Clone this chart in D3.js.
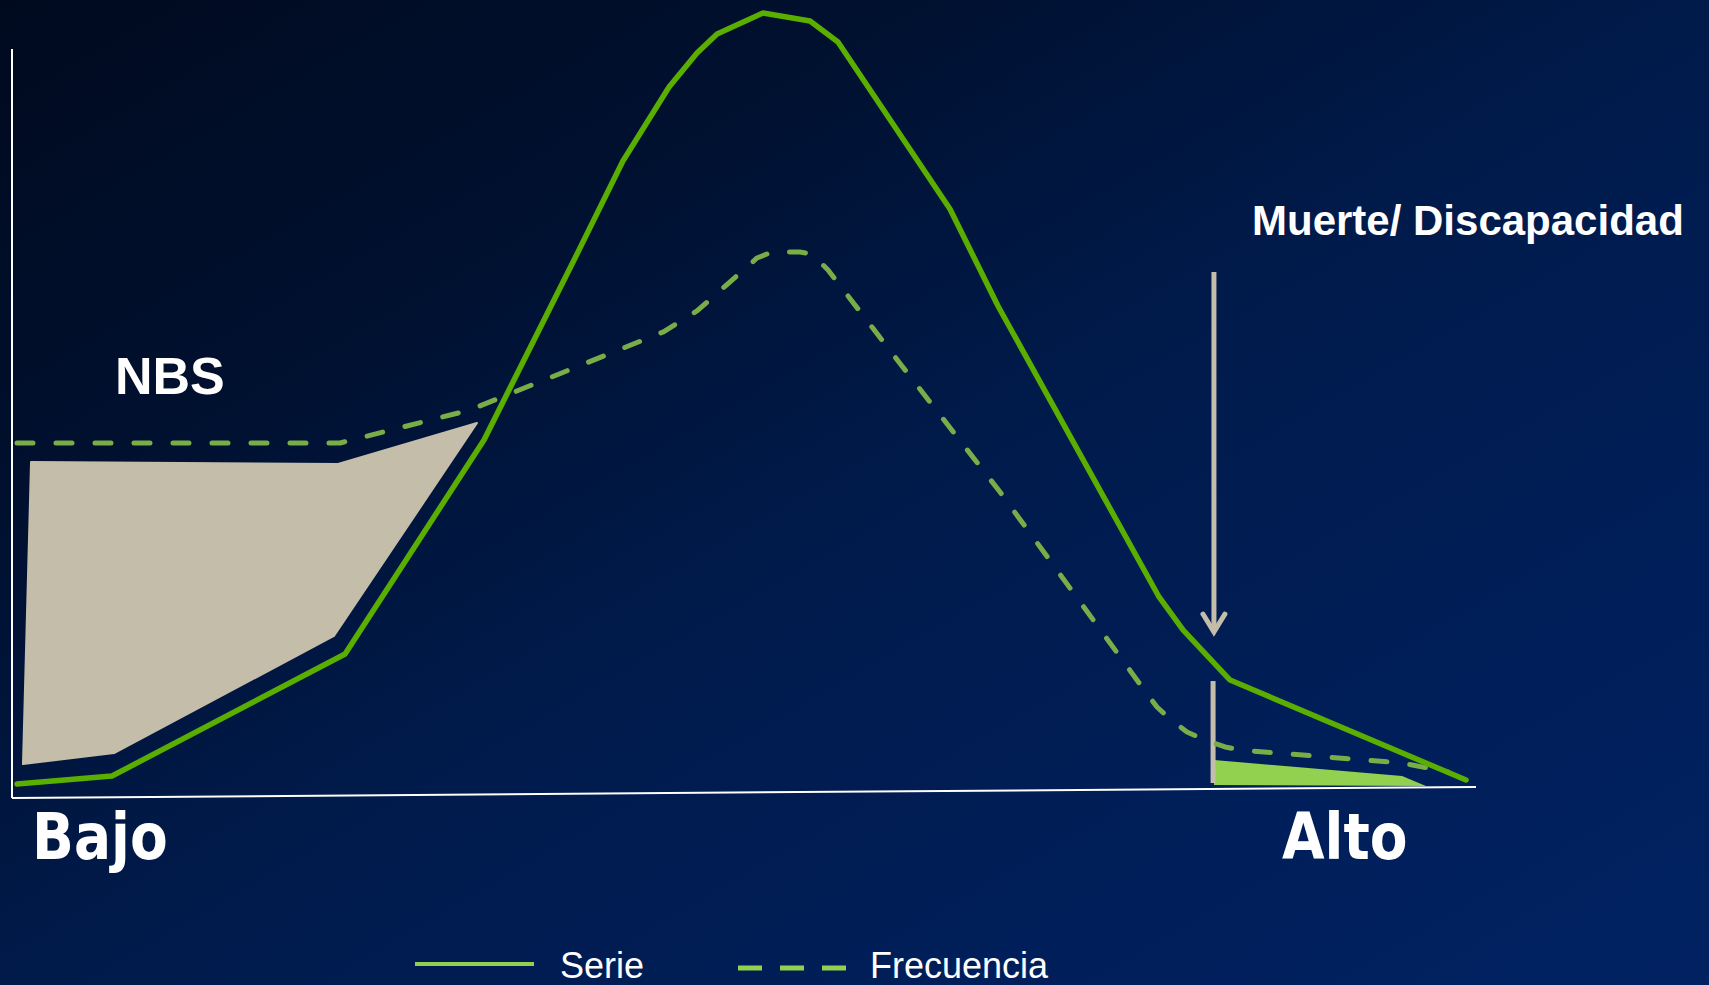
<!DOCTYPE html>
<html>
<head>
<meta charset="utf-8">
<script src="https://cdn.jsdelivr.net/npm/d3@7"></script>
<style>
  html, body { margin: 0; padding: 0; background: #00153d; overflow: hidden; }
  svg { display: block; }
</style>
</head>
<body>
<svg id="chart" width="1709" height="985"></svg>
<script>
// Severity axis runs 0..100 (Bajo -> Alto); heights are relative units 0..100.

// Serie: solid curve
const serieX = [0.34, 6.83, 22.75, 32.24, 38.46, 41.73, 44.88, 46.79, 48.16, 51.30, 54.51, 56.42, 64.07, 67.35, 78.35, 80.0, 83.20, 99.32];
const serieY = [1.78, 2.80, 18.34, 45.61, 68.79, 81.15, 90.57, 94.90, 97.32, 100, 98.98, 96.31, 75.03, 62.68, 25.61, 21.4, 15.03, 2.29];

// Frecuencia: dashed curve
const frecX = [0.34, 22.40, 31.28, 44.47, 46.79, 50.89, 51.91, 53.83, 54.64, 55.74, 60.79, 67.49, 77.19, 78.21, 79.10, 80.26, 81.49, 82.86, 83.88, 94.95, 98.09];
const frecY = [45.22, 45.22, 49.43, 59.36, 62.04, 68.79, 69.55, 69.55, 69.30, 67.26, 55.03, 38.98, 14.14, 11.59, 10.06, 8.41, 7.39, 6.50, 6.11, 4.46, 3.31];

// NBS shaded region
const nbsX = [1.30, 22.27, 31.76, 21.99, 6.97, 0.75];
const nbsY = [42.80, 42.55, 47.77, 20.64, 5.73, 4.33];

// Muerte / Discapacidad shaded region
const muerteX = [82.10, 94.95, 96.58, 82.10];
const muerteY = [4.84, 2.80, 1.53, 1.66];

// Marker at the Muerte/Discapacidad threshold
const markerX = [82.04, 82.04];
const markerY = [14.90, 1.91];
const arrowX = [82.10, 82.10];
const arrowY = [67.0, 20.76];

// Axis frame
const axisX = [0, 100];
const axisBaseY = [0, 1.40];
const axisTopY = 95.4;

const axisLabels = ["Bajo", "Alto"];
const legendLabels = ["Serie", "Frecuencia"];

const W = 1709, H = 985;
const svg = d3.select("#chart");

const x = d3.scaleLinear().domain([0, 100]).range([12, 1476]);
const y = d3.scaleLinear().domain([0, 100]).range([798, 13]);

// background: dark navy in the top-left corner brightening towards bottom-right
const defs = svg.append("defs");
const grad = defs.append("linearGradient")
  .attr("id", "bg")
  .attr("x1", 0).attr("y1", 0).attr("x2", 1).attr("y2", 1);
[[0, "#000a1f"], [0.25, "#00102e"], [0.5, "#001a4a"], [0.75, "#001e58"], [1, "#012262"]].forEach(([o, c]) =>
  grad.append("stop").attr("offset", o).attr("stop-color", c));
svg.append("rect").attr("width", W).attr("height", H).attr("fill", "url(#bg)");

const zipPts = (xs, ys) => xs.map((v, i) => [v, ys[i]]);
const line = d3.line().x(d => x(d[0])).y(d => y(d[1]));

// shaded regions
svg.append("path")
  .attr("d", line(zipPts(nbsX, nbsY)) + "Z")
  .attr("fill", "#c4bdaa").attr("stroke", "#c4bdaa")
  .attr("stroke-width", 2).attr("stroke-linejoin", "round");

svg.append("path")
  .attr("d", line(zipPts(muerteX, muerteY)) + "Z")
  .attr("fill", "#92d050");

// axes
svg.append("line")
  .attr("x1", x(axisX[0])).attr("y1", y(axisBaseY[0]))
  .attr("x2", x(axisX[0])).attr("y2", y(axisTopY))
  .attr("stroke", "#ffffff").attr("stroke-width", 2);
svg.append("line")
  .attr("x1", x(axisX[0])).attr("y1", y(axisBaseY[0]))
  .attr("x2", x(axisX[1])).attr("y2", y(axisBaseY[1]))
  .attr("stroke", "#ffffff").attr("stroke-width", 2);

// threshold marker
svg.append("line")
  .attr("x1", x(markerX[0])).attr("y1", y(markerY[0]))
  .attr("x2", x(markerX[1])).attr("y2", y(markerY[1]))
  .attr("stroke", "#c4bdaa").attr("stroke-width", 5);

// curves
svg.append("path")
  .attr("d", line(zipPts(frecX, frecY)))
  .attr("fill", "none").attr("stroke", "#78ad48")
  .attr("stroke-width", 5).attr("stroke-linecap", "round")
  .attr("stroke-linejoin", "round").attr("stroke-dasharray", "16 23");

svg.append("path")
  .attr("d", line(zipPts(serieX, serieY)))
  .attr("fill", "none").attr("stroke", "#5aae00")
  .attr("stroke-width", 5.5).attr("stroke-linecap", "round")
  .attr("stroke-linejoin", "round");

// arrow pointing to the curve
const ax = x(arrowX[0]), ay0 = y(arrowY[0]), ay1 = y(arrowY[1]);
svg.append("line")
  .attr("x1", ax).attr("y1", ay0).attr("x2", ax).attr("y2", ay1 - 3)
  .attr("stroke", "#c4bdaa").attr("stroke-width", 5);
svg.append("path")
  .attr("d", `M${ax - 11},${ay1 - 21} L${ax},${ay1 - 3} L${ax + 11},${ay1 - 21}`)
  .attr("fill", "none").attr("stroke", "#c4bdaa").attr("stroke-width", 5)
  .attr("stroke-linecap", "round").attr("stroke-linejoin", "miter");

// annotations
svg.append("text").text("NBS")
  .attr("x", 115).attr("y", 394)
  .attr("font-family", "Liberation Sans, Arial, sans-serif")
  .attr("font-weight", "bold").attr("font-size", 52).attr("fill", "#ffffff");

svg.append("text").text("Muerte/ Discapacidad")
  .attr("x", 1252).attr("y", 235)
  .attr("font-family", "Liberation Sans, Arial, sans-serif")
  .attr("font-weight", "bold").attr("font-size", 42).attr("fill", "#ffffff");

// end labels of the severity axis
const endPos = [[32, 859], [1282, 859]];
axisLabels.forEach((t, i) => {
  svg.append("text").text(t)
    .attr("transform", `translate(${endPos[i][0]},${endPos[i][1]}) scale(0.86,1)`)
    .attr("font-family", "DejaVu Sans, Verdana, sans-serif")
    .attr("font-weight", "bold").attr("font-size", 64).attr("fill", "#ffffff");
});

// legend
const lg = svg.append("g");
lg.append("line").attr("x1", 415).attr("x2", 534).attr("y1", 964).attr("y2", 964)
  .attr("stroke", "#92d050").attr("stroke-width", 4);
lg.append("text").text(legendLabels[0]).attr("x", 560).attr("y", 978)
  .attr("font-family", "Liberation Sans, Arial, sans-serif")
  .attr("font-size", 36).attr("fill", "#ffffff");
lg.append("line").attr("x1", 738).attr("x2", 846).attr("y1", 968).attr("y2", 968)
  .attr("stroke", "#92d050").attr("stroke-width", 5).attr("stroke-dasharray", "24 18");
lg.append("text").text(legendLabels[1]).attr("x", 870).attr("y", 978)
  .attr("font-family", "Liberation Sans, Arial, sans-serif")
  .attr("font-size", 36).attr("fill", "#ffffff");
</script>
</body>
</html>
